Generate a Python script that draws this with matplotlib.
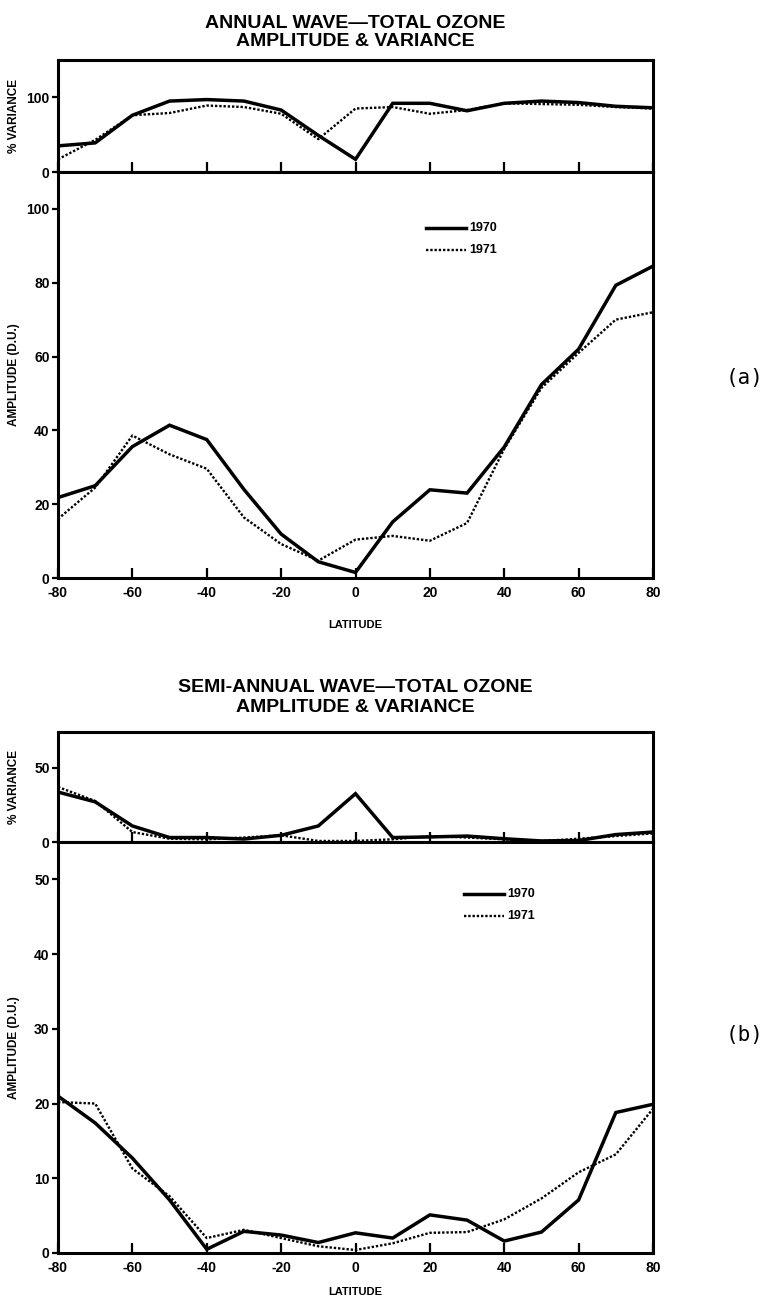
import numpy as np
import matplotlib
matplotlib.use('Agg')
import matplotlib.pyplot as plt

# latitude grid shared by all panels
lat = [-80, -70, -60, -50, -40, -30, -20, -10, 0, 10, 20, 30, 40, 50, 60, 70, 80]

# (a) annual wave
var_a_1970 = [35, 39, 76, 95, 97, 95, 83, 49, 17, 92, 92, 82, 92, 95, 93, 88, 86]
var_a_1971 = [17, 43, 76, 79, 89, 87, 78, 44, 85, 87, 78, 83, 92, 91, 90, 87, 85]
amp_a_1970 = [21.8, 25.0, 35.6, 41.4, 37.5, 24.0, 11.9, 4.4, 1.5, 15.2, 23.9, 23.0, 35.5, 52.4, 62.0, 79.3, 84.5]
amp_a_1971 = [16.0, 24.5, 38.6, 33.5, 29.6, 16.4, 9.2, 4.7, 10.4, 11.4, 10.1, 14.9, 35.0, 51.5, 61.0, 70.0, 72.0]

# (b) semi-annual wave
var_b_1970 = [33.6, 27, 10.8, 3, 3, 2, 4.5, 10.8, 32.5, 3, 3.4, 4, 2.2, 0.7, 1, 5, 6.7]
var_b_1971 = [37, 27.6, 6.7, 2.2, 1.8, 3, 4.5, 0.7, 0.7, 1.8, 4, 3, 1.8, 0.7, 2.2, 4, 5.8]
amp_b_1970 = [21.0, 17.4, 12.7, 7.1, 0.5, 2.9, 2.4, 1.4, 2.7, 2.0, 5.1, 4.4, 1.6, 2.8, 7.1, 18.8, 19.9]
amp_b_1971 = [20.2, 20.0, 11.3, 7.6, 2.0, 3.1, 2.0, 0.9, 0.4, 1.3, 2.7, 2.8, 4.5, 7.3, 10.8, 13.2, 19.3]

xticks = [-80, -60, -40, -20, 0, 20, 40, 60, 80]

plt.rcParams['font.family'] = ['Liberation Sans', 'DejaVu Sans']
plt.rcParams['font.weight'] = 'bold'
plt.rcParams['axes.unicode_minus'] = False

W, H = 770, 1298
fig = plt.figure(figsize=(W / 100, H / 100), dpi=100)

DOTS = (0, (1, 0.8))


def px_axes(top, bottom, left=58, right=653):
    return fig.add_axes([left / W, 1 - bottom / H, (right - left) / W, (bottom - top) / H])


def style(ax, yticks, show_xlabels):
    for s in ax.spines.values():
        s.set_linewidth(2.2)
    ax.set_xlim(-80, 80)
    ax.set_xticks(xticks)
    ax.set_yticks(yticks)
    ax.tick_params(axis='x', direction='in', length=7, width=1.6, pad=6,
                   labelsize=10, top=False)
    ax.tick_params(axis='y', direction='out', length=4, width=1.6, pad=2,
                   labelsize=10)
    if not show_xlabels:
        ax.set_xticklabels([])
    for t in ax.get_xticklabels() + ax.get_yticklabels():
        t.set_fontweight('bold')


def plot_lines(ax, y70, y71):
    ax.plot(lat, y70, color='black', lw=2.5, solid_joinstyle='miter')
    ax.plot(lat, y71, color='black', lw=1.7, linestyle=DOTS)


def panel(var_top, var_bot, amp_bot, var70, var71, amp70, amp71,
          var_max, var_ticks, amp_max, amp_ticks, titles, leg_y, leg_x, tag, tag_y, lat_off):
    axv = px_axes(var_top, var_bot)
    plot_lines(axv, var70, var71)
    axv.set_ylim(0, var_max)
    style(axv, var_ticks, False)

    axa = px_axes(var_bot, amp_bot)
    plot_lines(axa, amp70, amp71)
    axa.set_ylim(0, amp_max)
    style(axa, amp_ticks, True)

    cx = (58 + 653) / 2 / W
    fig.text(cx, 1 - titles[0] / H, titles[1], ha='center', va='center',
             fontsize=14, fontweight='bold')
    fig.text(cx, 1 - titles[2] / H, titles[3], ha='center', va='center',
             fontsize=14, fontweight='bold')

    fig.text(14 / W, 1 - (var_top + var_bot) / 2 / H, '% VARIANCE', rotation=90,
             ha='center', va='center', fontsize=8.5, fontweight='bold')
    fig.text(14 / W, 1 - (var_bot + amp_bot) / 2 / H, 'AMPLITUDE (D.U.)', rotation=90,
             ha='center', va='center', fontsize=8.5, fontweight='bold')
    fig.text(cx, 1 - (amp_bot + lat_off) / H, 'LATITUDE', ha='center', va='center',
             fontsize=8, fontweight='bold')

    # legend: short line samples with labels
    for i, (lab, ls, lw) in enumerate([('1970', '-', 2.5), ('1971', DOTS, 1.7)]):
        yy = 1 - (leg_y + i * 22) / H
        fig.add_artist(matplotlib.lines.Line2D([leg_x / W, (leg_x + 40) / W], [yy, yy],
                                               color='black', lw=lw, linestyle=ls))
        fig.text((leg_x + 43) / W, yy, lab, ha='left', va='center', fontsize=9,
                 fontweight='bold')

    fig.text(745 / W, 1 - tag_y / H, '(' + tag + ')', ha='center', va='center',
             fontsize=15, family='DejaVu Sans Mono', fontweight='normal')


panel(60, 172, 578, var_a_1970, var_a_1971, amp_a_1970, amp_a_1971,
      150, [0, 100], 110, [0, 20, 40, 60, 80, 100],
      (24, 'ANNUAL WAVE\u2014TOTAL OZONE', 42, 'AMPLITUDE & VARIANCE'),
      228, 426, 'a', 378, 47)

panel(732, 842, 1253, var_b_1970, var_b_1971, amp_b_1970, amp_b_1971,
      74, [0, 50], 55, [0, 10, 20, 30, 40, 50],
      (688, 'SEMI-ANNUAL WAVE\u2014TOTAL OZONE', 707, 'AMPLITUDE & VARIANCE'),
      894, 464, 'b', 1035, 39)

fig.savefig('out.png', dpi=100, facecolor='white')
